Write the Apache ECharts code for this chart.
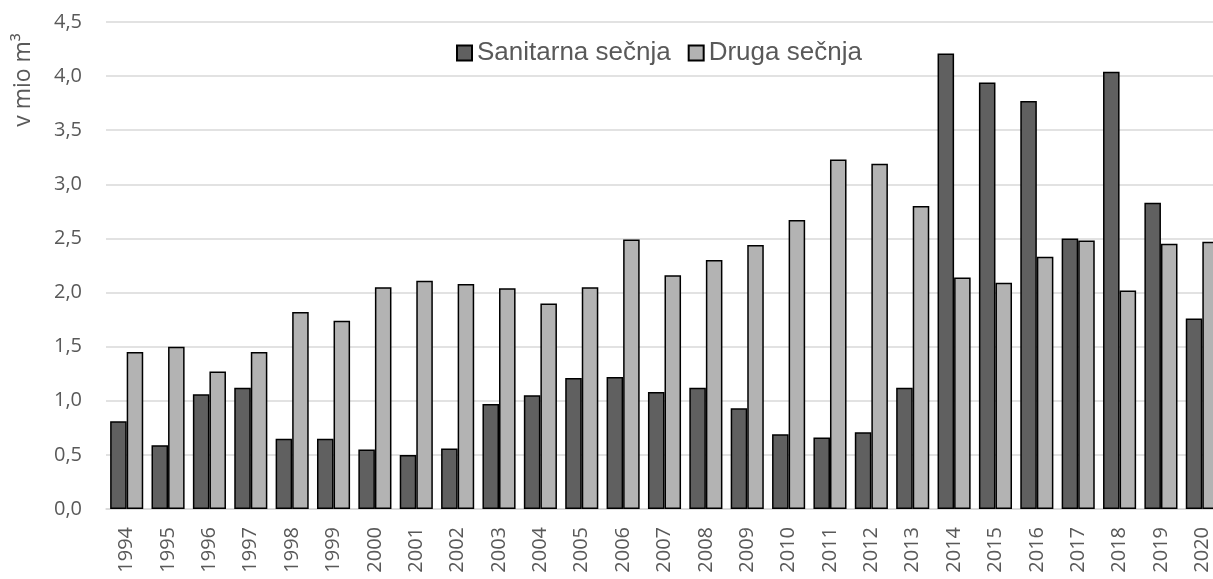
<!DOCTYPE html>
<html>
<head>
<meta charset="utf-8">
<script src="https://cdn.jsdelivr.net/npm/echarts@6/dist/echarts.min.js"></script>
<style>
html,body{margin:0;padding:0;background:#fff;}
#chart{width:1213px;height:579px;}
</style>
</head>
<body>
<div id="chart"></div>
<script>
const years = ['1994','1995','1996','1997','1998','1999','2000','2001','2002','2003','2004','2005','2006','2007','2008','2009','2010','2011','2012','2013','2014','2015','2016','2017','2018','2019','2020'];
const sanitarna = [0.81,0.59,1.06,1.12,0.65,0.65,0.55,0.50,0.56,0.97,1.05,1.21,1.22,1.08,1.12,0.93,0.69,0.66,0.71,1.12,4.21,3.94,3.77,2.50,4.04,2.83,1.76];
const druga = [1.45,1.50,1.27,1.45,1.82,1.74,2.05,2.11,2.08,2.04,1.90,2.05,2.49,2.16,2.30,2.44,2.67,3.23,3.19,2.80,2.14,2.09,2.33,2.48,2.02,2.45,2.47];
const yTickLabels = ['0,0','0,5','1,0','1,5','2,0','2,5','3,0','3,5','4,0','4,5'];
const seriesNames = ['Sanitarna sečnja','Druga sečnja'];
const axisTitle = 'v mio m³';

const chart = echarts.init(document.getElementById('chart'));
chart.setOption({
  animation: false,
  backgroundColor: '#ffffff',
  grid: { left: 106, width: 1117, top: 22, bottom: 70, containLabel: false, outerBoundsMode: 'none' },
  legend: {
    data: seriesNames,
    left: 451,
    top: 35,
    icon: 'rect',
    itemWidth: 15,
    itemHeight: 15,
    itemGap: 17,
    textStyle: { fontFamily: 'Liberation Sans', fontSize: 26, color: '#595959', lineHeight: 26 }
  },
  xAxis: {
    type: 'category',
    data: years,
    axisTick: { show: false },
    axisLine: { lineStyle: { color: '#d9d9d9', width: 1.5 } },
    axisLabel: { rotate: 90, margin: 18, fontFamily: 'Open Sans', fontSize: 20, color: '#595959', interval: 0 }
  },
  yAxis: {
    type: 'value',
    min: 0, max: 4.5, interval: 0.5,
    axisLine: { show: false },
    axisTick: { show: false },
    splitLine: { lineStyle: { color: '#d9d9d9', width: 1.5 } },
    axisLabel: {
      margin: 24, fontFamily: 'Open Sans', fontSize: 20, color: '#595959',
      formatter: function (v) { return yTickLabels[Math.round(v / 0.5)]; }
    }
  },
  graphic: [{
    type: 'text',
    x: 23, y: 80,
    rotation: Math.PI / 2,
    style: { text: axisTitle, fontFamily: 'Open Sans', fontSize: 23, fill: '#595959', align: 'center', verticalAlign: 'middle' }
  }],
  series: [
    { name: seriesNames[0], type: 'bar', data: sanitarna, barGap: '0%', barCategoryGap: '20%',
      itemStyle: { color: '#606060', borderColor: '#000000', borderWidth: 1.5 } },
    { name: seriesNames[1], type: 'bar', data: druga, barGap: '0%', barCategoryGap: '20%',
      itemStyle: { color: '#b3b3b3', borderColor: '#000000', borderWidth: 1.5 } }
  ]
});
</script>
</body>
</html>
